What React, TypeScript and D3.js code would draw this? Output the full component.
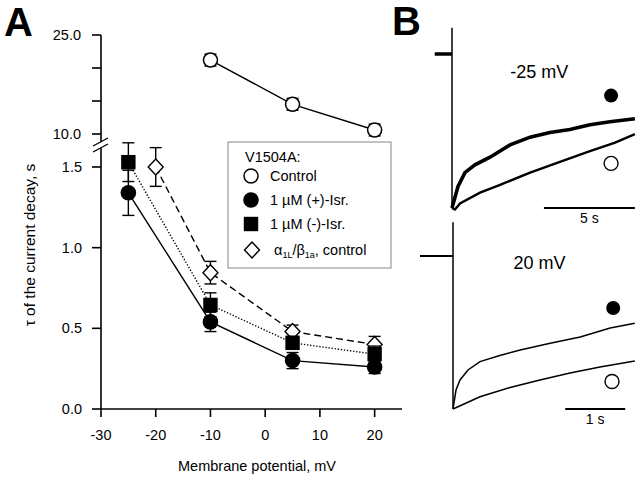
import React from 'react';
import * as d3 from 'd3';

// Panel A data: tau of current decay (s) vs membrane potential (mV)
const controlV = [-10, 5, 20];
const controlTau = [21.2, 14.5, 10.6];
const controlErr = [0.9, 0.9, 0.9];

const isrV = [-25, -10, 5, 20];
const plusIsrTau = [1.34, 0.54, 0.3, 0.26];
const plusIsrErr = [0.14, 0.06, 0.05, 0.04];
const minusIsrTau = [1.53, 0.645, 0.41, 0.34];
const minusIsrErr = [0.12, 0.075, 0.04, 0.05];

const alphaV = [-20, -10, 5, 20];
const alphaTau = [1.5, 0.845, 0.48, 0.4];
const alphaErr = [0.12, 0.07, 0.04, 0.05];

const xTicks = [-30, -20, -10, 0, 10, 20];
const yTopTicks = [10, 15, 20, 25];
const yTopLabels = ['10.0', '25.0'];
const yBotTicks = [0, 0.5, 1.0, 1.5];

// Panel B traces: time (s) vs fraction of peak current (downward)
const topFilledT = [0, 0.33, 0.71, 1.26, 2.09, 3.19, 4.29, 5.38, 6.48, 7.58, 8.68, 10.05];
const topFilledI = [1.0, 0.86, 0.77, 0.72, 0.67, 0.59, 0.54, 0.51, 0.49, 0.46, 0.44, 0.42];
const topOpenT = [0, 0.16, 0.44, 1.54, 2.64, 4.29, 5.93, 7.58, 8.96, 10.05];
const topOpenI = [1.0, 1.01, 0.97, 0.9, 0.85, 0.77, 0.7, 0.63, 0.575, 0.52];

const botFilledT = [0, 0.05, 0.117, 0.25, 0.45, 0.78, 1.12, 1.62, 2.12, 2.62, 3.03];
const botFilledI = [1.0, 0.876, 0.81, 0.745, 0.69, 0.65, 0.614, 0.57, 0.53, 0.47, 0.44];
const botOpenT = [0, 0.45, 0.95, 1.45, 1.95, 2.45, 3.03];
const botOpenI = [1.0, 0.92, 0.86, 0.81, 0.765, 0.725, 0.686];

const FONT = 'Liberation Sans, Arial, Helvetica, sans-serif';

type Pt = [number, number];
const zip = (a: number[], b: number[]): Pt[] => a.map((v, i) => [v, b[i]]);

const Marker = ({ kind, cx, cy }: { kind: string; cx: number; cy: number }) => {
  if (kind === 'openCircle')
    return <circle cx={cx} cy={cy} r={7} fill="#fff" stroke="#000" strokeWidth={1.5} />;
  if (kind === 'filledCircle') return <circle cx={cx} cy={cy} r={7.8} fill="#000" />;
  if (kind === 'square')
    return <rect x={cx - 7.2} y={cy - 7.2} width={14.4} height={14.4} fill="#000" />;
  return (
    <path
      d={`M${cx},${cy - 8}L${cx + 7.5},${cy}L${cx},${cy + 8}L${cx - 7.5},${cy}Z`}
      fill="#fff"
      stroke="#000"
      strokeWidth={1.4}
    />
  );
};

const Series = ({
  xs, ys, errs, x, y, kind, dash,
}: {
  xs: number[]; ys: number[]; errs: number[];
  x: d3.ScaleLinear<number, number>; y: d3.ScaleLinear<number, number>;
  kind: string; dash?: string;
}) => {
  const line = d3.line<Pt>().x(d => x(d[0])).y(d => y(d[1]));
  const pts = zip(xs, ys);
  return (
    <g>
      <path d={line(pts) || ''} fill="none" stroke="#000" strokeWidth={1.4} strokeDasharray={dash} />
      {pts.map((p, i) => {
        const cx = x(p[0]);
        const y1 = y(p[1] + errs[i]);
        const y2 = y(p[1] - errs[i]);
        return (
          <g key={'e' + i} stroke="#000" strokeWidth={1.4}>
            <line x1={cx} x2={cx} y1={y1} y2={y2} />
            <line x1={cx - 6} x2={cx + 6} y1={y1} y2={y1} />
            <line x1={cx - 6} x2={cx + 6} y1={y2} y2={y2} />
          </g>
        );
      })}
      {pts.map((p, i) => (
        <Marker key={'m' + i} kind={kind} cx={x(p[0])} cy={y(p[1])} />
      ))}
    </g>
  );
};

const TracePanel = ({
  t, i, filled, open, baseStart, stepTop, bar, label, labelY, filledMark, openMark, traceW, baseW,
}: {
  t: d3.ScaleLinear<number, number>; i: d3.ScaleLinear<number, number>;
  filled: Pt[]; open: Pt[]; baseStart: number; stepTop: number;
  bar: [number, number, string]; label: string; labelY: number;
  filledMark: Pt; openMark: Pt; traceW: [number, number]; baseW: number;
}) => {
  const line = d3.line<Pt>().x(d => t(d[0])).y(d => i(d[1]));
  return (
    <g>
      <line x1={t(baseStart)} x2={t(0)} y1={i(0)} y2={i(0)} stroke="#000" strokeWidth={baseW} />
      <line x1={t(0)} x2={t(0)} y1={i(stepTop)} y2={i(1)} stroke="#000" strokeWidth={1.5} />
      <path d={line(filled) || ''} fill="none" stroke="#000" strokeWidth={traceW[0]} />
      <path d={line(open) || ''} fill="none" stroke="#000" strokeWidth={traceW[1]} />
      <text x={t((t.domain()[1]) * 0.48)} y={labelY} fontSize={18} fontFamily={FONT} textAnchor="middle">
        {label}
      </text>
      <circle cx={t(filledMark[0])} cy={i(filledMark[1])} r={7} fill="#000" />
      <circle cx={t(openMark[0])} cy={i(openMark[1])} r={7} fill="#fff" stroke="#000" strokeWidth={1.4} />
      <line x1={t(bar[0])} x2={t(bar[1])} y1={i(1)} y2={i(1)} stroke="#000" strokeWidth={2} />
      <text x={(t(bar[0]) + t(bar[1])) / 2} y={i(1) + 15} fontSize={14} fontFamily={FONT} textAnchor="middle">
        {bar[2]}
      </text>
    </g>
  );
};

export default function App() {
  const x = d3.scaleLinear().domain([-30, 25]).range([101, 402]);
  const yTop = d3.scaleLinear().domain([10, 25]).range([134, 35]);
  const yBot = d3.scaleLinear().domain([0, 1.5]).range([409, 167]);

  const tTop = d3.scaleLinear().domain([0, 10]).range([452, 634]);
  const iTop = d3.scaleLinear().domain([0, 1]).range([54, 208]);
  const tBot = d3.scaleLinear().domain([0, 3]).range([453, 633]);
  const iBot = d3.scaleLinear().domain([0, 1]).range([256, 409]);

  const x0 = x(-30);

  return (
    <svg
      width={640}
      height={478}
      style={{ position: 'absolute', left: 0, top: 0, background: '#fff' }}
      fontFamily={FONT}
    >
      <rect width={640} height={478} fill="#fff" />
      {/* panel labels */}
      <text x={4} y={36} fontSize={40} fontWeight="bold">A</text>
      <text x={392} y={35} fontSize={40} fontWeight="bold">B</text>

      {/* y axis, broken */}
      <g stroke="#000" strokeWidth={1.6}>
        <line x1={x0} x2={x0} y1={yTop(25)} y2={142} />
        <line x1={x0} x2={x0} y1={148} y2={yBot(0)} />
        <line x1={93} x2={108} y1={146} y2={138} strokeWidth={1.3} />
        <line x1={93} x2={108} y1={152} y2={144} strokeWidth={1.3} />
        {yTopTicks.map(v => (
          <line key={'yt' + v} x1={x0 - 9} x2={x0} y1={yTop(v)} y2={yTop(v)} />
        ))}
        {yBotTicks.map(v => (
          <line key={'yb' + v} x1={x0 - 9} x2={x0} y1={yBot(v)} y2={yBot(v)} />
        ))}
        <line x1={x0} x2={x(25)} y1={yBot(0)} y2={yBot(0)} />
        {xTicks.map(v => (
          <line key={'xt' + v} x1={x(v)} x2={x(v)} y1={yBot(0)} y2={yBot(0) + 8} />
        ))}
      </g>
      <g fontSize={14.5} textAnchor="end">
        <text x={81} y={yTop(25) + 5}>{yTopLabels[1]}</text>
        <text x={81} y={yTop(10) + 5}>{yTopLabels[0]}</text>
        {yBotTicks.map(v => (
          <text key={'ybl' + v} x={82} y={yBot(v) + 5}>{v.toFixed(1)}</text>
        ))}
      </g>
      <g fontSize={14.5} textAnchor="middle">
        {xTicks.map(v => (
          <text key={'xl' + v} x={x(v)} y={440}>{v}</text>
        ))}
        <text x={257} y={471}>Membrane potential, mV</text>
        <text transform="translate(35,245) rotate(-90)" fontSize={15.5}>τ of the current decay, s</text>
      </g>

      {/* data */}
      <Series xs={controlV} ys={controlTau} errs={controlErr} x={x} y={yTop} kind="openCircle" />
      <Series xs={alphaV} ys={alphaTau} errs={alphaErr} x={x} y={yBot} kind="diamond" dash="7,4" />
      <Series xs={isrV} ys={plusIsrTau} errs={plusIsrErr} x={x} y={yBot} kind="filledCircle" />
      <Series xs={isrV} ys={minusIsrTau} errs={minusIsrErr} x={x} y={yBot} kind="square" dash="1.3,1.8" />

      {/* legend */}
      <g>
        <rect x={228} y={142} width={163} height={126} fill="#fff" stroke="#999" strokeWidth={1.2} />
        <g fontSize={14.5}>
          <text x={245} y={162}>V1504A:</text>
          <Marker kind="openCircle" cx={251} cy={176} />
          <text x={270} y={181}>Control</text>
          <Marker kind="filledCircle" cx={251} cy={200} />
          <text x={270} y={205}>1 µM (+)-Isr.</text>
          <Marker kind="square" cx={251} cy={224} />
          <text x={270} y={229}>1 µM (-)-Isr.</text>
          <Marker kind="diamond" cx={252} cy={250} />
          <text x={274} y={255}>
            α<tspan fontSize={9} dy={3}>1L</tspan>
            <tspan dy={-3}>/β</tspan>
            <tspan fontSize={9} dy={3}>1a</tspan>
            <tspan dy={-3}>, control</tspan>
          </text>
        </g>
      </g>

      {/* panel B */}
      <TracePanel
        t={tTop}
        i={iTop}
        filled={zip(topFilledT, topFilledI)}
        open={zip(topOpenT, topOpenI)}
        baseStart={-0.95}
        stepTop={-0.17}
        bar={[5.05, 10.05, '5 s']}
        label="-25 mV"
        labelY={78}
        filledMark={[8.74, 0.27]}
        openMark={[8.74, 0.71]}
        traceW={[3.6, 2.4]}
        baseW={3.5}
      />
      <TracePanel
        t={tBot}
        i={iBot}
        filled={zip(botFilledT, botFilledI)}
        open={zip(botOpenT, botOpenI)}
        baseStart={-0.55}
        stepTop={-0.22}
        bar={[1.87, 2.87, '1 s']}
        label="20 mV"
        labelY={269}
        filledMark={[2.67, 0.34]}
        openMark={[2.65, 0.82]}
        traceW={[1.5, 1.5]}
        baseW={2}
      />
    </svg>
  );
}
